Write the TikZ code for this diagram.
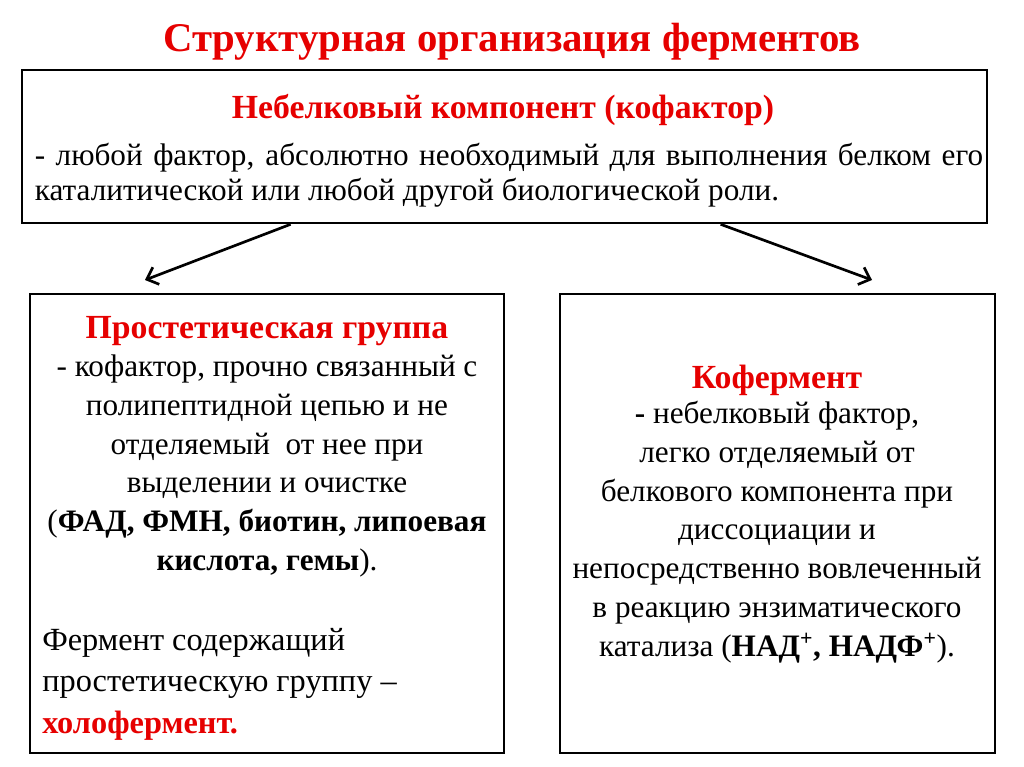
\documentclass[tikz,border=0pt]{standalone}
\usepackage{fontspec}
\setmainfont{Liberation Serif}
\usetikzlibrary{arrows.meta,calc}
\definecolor{slidered}{RGB}{230,0,0}

\begin{document}
\begin{tikzpicture}[
x=0.025cm,y=-0.025cm,
block/.style={
draw,
line width=1.8pt,
rectangle,
inner sep=0pt},
title/.style={font=\fontsize{29}{34}\selectfont\bfseries, text=slidered},
head/.style={font=\fontsize{24}{29}\selectfont\bfseries, text=slidered},
body/.style={font=\fontsize{22.2}{27.6}\selectfont, align=center, inner sep=0pt},
link/.style={line width=1.9pt, -{Straight Barb[length=7pt,width=13pt,line width=1.9pt]}}
]
\useasboundingbox (0,0) rectangle (1024,767);

\draw (504.5,146.5)node[block, minimum width=24.125cm, minimum height=3.825cm](topbox){};
\draw (267,523.5)node[block, minimum width=11.85cm, minimum height=11.475cm](protbox){};
\draw (777.5,523.5)node[block, minimum width=10.875cm, minimum height=11.475cm](cobox){};

\draw (512,42)node[title](maintitle){Структурная организация ферментов};
\draw (503,110)node[head](cofhead){Небелковый компонент (кофактор)};
\draw (509,175)node[body, text width=23.7cm, align=justify, font=\fontsize{22.2}{25}\selectfont](cofbody){- любой фактор, абсолютно необходимый для выполнения белком его\linebreak каталитической или любой другой биологической роли.};

\draw (267,331)node[head](prothead){Простетическая группа};
\draw (267,466)node[body](protbody){- кофактор, прочно связанный с\\ полипептидной цепью и не\\ отделяемый\ \ от нее при\\ выделении и очистке\\ (\textbf{ФАД, ФМН, биотин, липоевая}\\ \textbf{кислота, гемы}).};
\draw (42,684)node[body, anchor=west, align=left, font=\fontsize{23}{29.5}\selectfont](holo){Фермент содержащий\\ простетическую группу –\\ \textcolor{slidered}{\textbf{холофермент.}}};

\draw (777,380)node[head](cohead){Кофермент};
\draw (777,532)node[body](cobody){\textbf{-} небелковый фактор,\\ легко отделяемый от\\ белкового компонента при\\ диссоциации и\\ непосредственно вовлеченный\\ в реакцию энзиматического\\ катализа (\textbf{НАД\textsuperscript{+}, НАДФ\textsuperscript{+}}).};

\coordinate (ltip) at (145,280);
\coordinate (rtip) at (872,280);
\draw[link] ($(topbox.south west)+(270,0)$) -- (ltip);
\draw[link] ($(topbox.south west)+(700,0)$) -- (rtip);

\end{tikzpicture}
\end{document}
